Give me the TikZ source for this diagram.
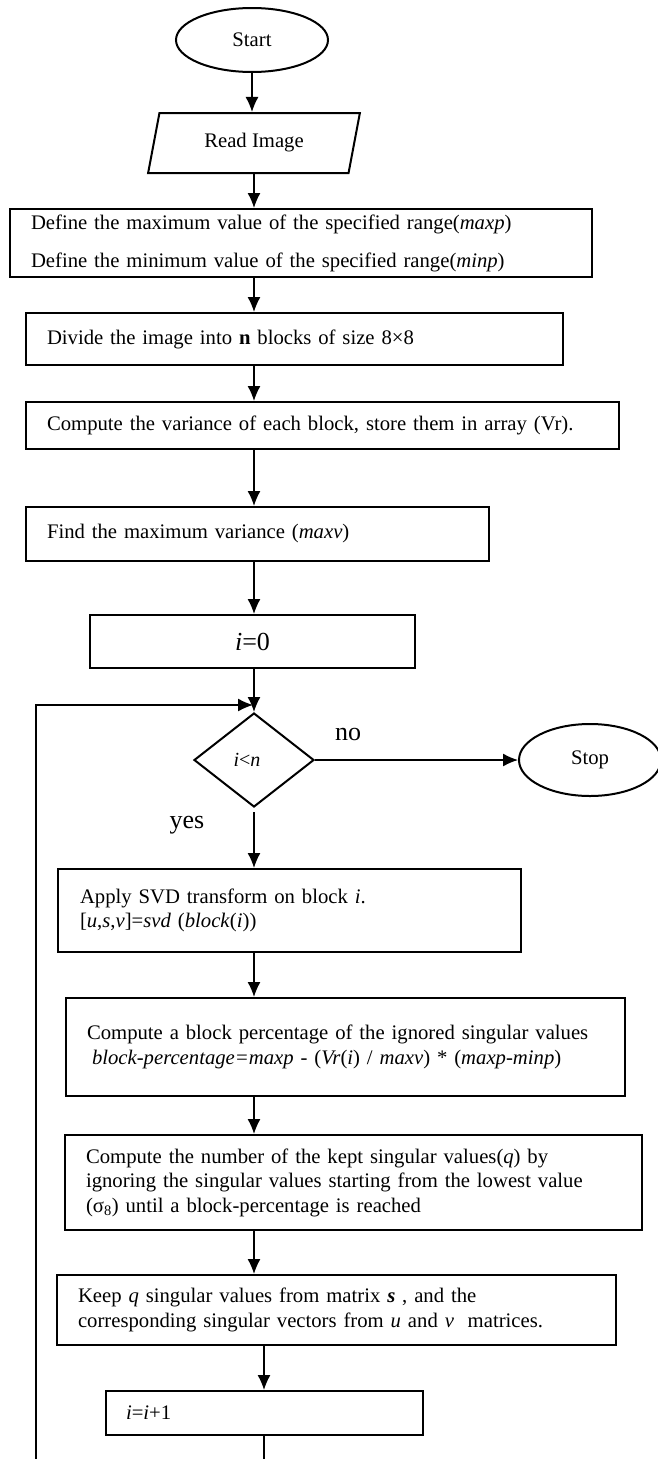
\documentclass[tikz,border=0pt]{standalone}
\usepackage{fontspec}
\setmainfont{Liberation Serif}
\usepackage{tikz}
\usetikzlibrary{shapes.geometric,arrows.meta}
\tikzset{>={Latex[length=15pt,width=13pt]}}
\newcommand\bodyfont{\fontsize{20.7}{24.5}\selectfont}

\begin{document}
\begin{tikzpicture}[x=1pt, y=-1pt,
                    box/.style={draw, line width=2pt, rectangle, align=left,
                                inner ysep=0pt, inner xsep=21pt, font=\bodyfont},
                    term/.style={draw, ellipse, line width=2pt, inner sep=0pt, font=\bodyfont},
                    flow/.style={->, line width=1.3pt},
                    tag/.style={font=\fontsize{26}{26}\selectfont}]
  \useasboundingbox (0,0) rectangle (658,1459);

  % spine of the chart
  \coordinate (spine)  at (254,0);
  \coordinate (spine2) at (264,0);

  % INPUT PART
  \node[term, minimum width=152pt, minimum height=64pt] (start) at (252,40) {Start};
  \node[draw, trapezium, trapezium left angle=76, trapezium right angle=104,
        trapezium stretches=true, minimum width=212pt, minimum height=60pt,
        line width=2pt, font=\bodyfont] (read) at (254,143) {Read Image};
  \node[box, text width=540pt, minimum height=68pt, font=\fontsize{20.7}{38}\selectfont]
    (range) at (301,243)
    {Define the maximum value of the specified range(\textit{maxp})\\
     Define the minimum value of the specified range(\textit{minp})};
  \node[box, text width=495pt, minimum height=52pt] (divide) at (294.5,339)
    {Divide the image into \textbf{n} blocks of size 8×8};
  \node[box, text width=551pt, minimum height=47pt] (var) at (322.5,425.5)
    {Compute the variance of each block, store them in array (Vr).};
  \node[box, text width=421pt, minimum height=54pt] (maxv) at (257.5,534)
    {Find the maximum variance (\textit{maxv})};
  \node[box, align=center, minimum width=325pt, minimum height=53pt, inner xsep=0pt,
        font=\fontsize{26}{26}\selectfont] (init) at (252.5,641.5) {\textit{i}=0};

  % LOOP TEST
  \node[draw, diamond, line width=2pt, minimum width=120pt, minimum height=94pt,
        inner sep=0pt, font=\fontsize{20}{20}\selectfont] (cond) at (254,760)
    {\textit{i}<\textit{n}\hspace*{14pt}};
  \node[term, minimum width=142pt, minimum height=72pt] (stop) at (590,760) {Stop};
  \node[tag] (no)  at (348,734) {no};
  \node[tag] (yes) at (187,825) {yes};
  \coordinate (merge) at (253,705);

  % LOOP BODY
  \node[box, inner xsep=22pt, text width=419pt, minimum height=83pt] (svd) at (289.5,910.5)
    {Apply SVD transform on block \textit{i}.\\
     {[}\textit{u},\textit{s},\textit{v}{]}=\textit{svd} (\textit{block}(\textit{i}))};
  \node[box, text width=517pt, minimum height=98pt] (perc) at (345.5,1047)
    {Compute a block percentage of the ignored singular values\\
     \hspace{5pt}\textit{block-percentage=maxp} - (\textit{Vr}(\textit{i}) / \textit{maxv}) * (\textit{maxp-minp})};
  \node[box, text width=535pt, minimum height=95pt] (kept) at (353.5,1182.5)
    {Compute the number of the kept singular values(\textit{q}) by\\
     ignoring the singular values starting from the lowest value\\
     (σ\textsubscript{8}) until a block-percentage is reached};
  \node[box, text width=517pt, minimum height=70pt] (keep) at (336.5,1310)
    {Keep \textit{q} singular values from matrix \textbf{\textit{s}} , and the\\
     corresponding singular vectors from \textit{u} and \textit{v}~ matrices.};
  \node[box, inner xsep=20pt, text width=277pt, minimum height=44pt] (incr) at (264.5,1413)
    {\textit{i}=\textit{i}+1};
  \coordinate (tail)    at (264,1459);
  \coordinate (loopbot) at (36,1459);

  % ARROWS
  \draw[flow] (start.south) -- (start.south |- read.north);
  \draw[flow] (read.south -| spine) -- (range.north -| spine);
  \draw[flow] (range.south -| spine) -- (divide.north -| spine);
  \draw[flow] (divide.south -| spine) -- (var.north -| spine);
  \draw[flow] (var.south -| spine) -- (maxv.north -| spine);
  \draw[flow] (maxv.south -| spine) -- (init.north -| spine);
  \draw[flow] (init.south -| spine) -- (cond.north);
  \draw[flow] (cond.east) -- (stop.west);
  \draw[flow, shorten <=4pt] (cond.south) -- (svd.north -| cond.south);
  \draw[flow] (svd.south -| spine) -- (perc.north -| spine);
  \draw[flow] (perc.south -| spine) -- (kept.north -| spine);
  \draw[flow] (kept.south -| spine) -- (keep.north -| spine);
  \draw[flow] (keep.south -| spine2) -- (incr.north -| spine2);
  \draw[line width=1.3pt] (incr.south -| spine2) -- (tail);
  \draw[flow] (loopbot) |- (merge);
\end{tikzpicture}
\end{document}
